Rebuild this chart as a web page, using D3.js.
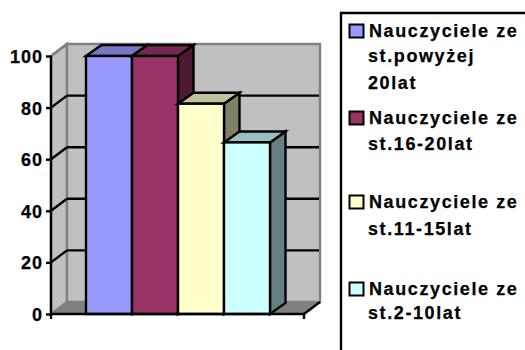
<!DOCTYPE html>
<html>
<head>
<meta charset="utf-8">
<script src="https://cdnjs.cloudflare.com/ajax/libs/d3/7.8.5/d3.min.js"></script>
<style>
  html, body { margin: 0; padding: 0; background: #fff; overflow: hidden; }
  svg { display: block; }
  text { font-family: "Liberation Sans", Arial, sans-serif; font-weight: bold; fill: #000; stroke: #000; stroke-width: 0.25px; }
</style>
</head>
<body>
<div id="root"></div>
<script>
const categories = ["st.powyżej 20lat", "st.16-20lat", "st.11-15lat", "st.2-10lat"];
const values = [100, 100, 81.5, 66.5];
const colors = ["#9999ff", "#993366", "#ffffcc", "#ccffff"];
const topColors = ["#7777c4", "#772850", "#c0c099", "#99c0c0"];
const sideColors = ["#4d4d80", "#4d1a33", "#808066", "#668080"];
const yTicks = [0, 20, 40, 60, 80, 100];
const legendLines = [
  ["Nauczyciele ze", "st.powyżej", "20lat"],
  ["Nauczyciele ze", "st.16-20lat"],
  ["Nauczyciele ze", "st.11-15lat"],
  ["Nauczyciele ze", "st.2-10lat"]
];
const legendBaselines = [[37, 62, 89], [124, 150], [208, 235], [295, 319]];

var w = 525;
var h = 350;
var svg = d3.select("#root").append("svg").attr("width", w).attr("height", h);

var y = d3.scaleLinear().domain([0, 100]).range([314, 56]);
var x = d3.scaleBand().domain(categories).range([86, 270]);

// depth of the walls and of the bars
var wallX = 16, wallY = 12;
var barX = 15.5, barY = 11;
var left = 51, right = 304;
var lw = 2.4;

function poly(points, fill, stroke, sw) {
  return svg.append("polygon")
    .attr("points", points.map(p => p.join(",")).join(" "))
    .attr("fill", fill)
    .attr("stroke", stroke || "none")
    .attr("stroke-width", sw || 0);
}

function line(x1, y1, x2, y2, color, sw) {
  return svg.append("line")
    .attr("x1", x1).attr("y1", y1).attr("x2", x2).attr("y2", y2)
    .attr("stroke", color).attr("stroke-width", sw);
}

// walls and floor
poly([[left, y(0)], [left + wallX, y(0) - wallY], [left + wallX, y(100) - wallY], [left, y(100)]], "#c0c0c0", "#808080", lw);
poly([[left + wallX, y(0) - wallY], [right + wallX, y(0) - wallY], [right + wallX, y(100) - wallY], [left + wallX, y(100) - wallY]], "#c0c0c0", "#808080", lw);
poly([[left, y(0)], [left + wallX, y(0) - wallY], [right + wallX, y(0) - wallY], [right, y(0)]], "#808080", "#808080", 1);

// gridlines
yTicks.filter(d => d > 0 && d < 100).forEach(function(d) {
  line(left, y(d), left + wallX, y(d) - wallY, "#000", lw);
  line(left + wallX, y(d) - wallY, right + wallX - 1, y(d) - wallY, "#000", lw);
});
line(left, y(100), left + wallX, y(100) - wallY, "#808080", lw);

// bars
categories.forEach(function(c, i) {
  var x0 = x(c), x1 = x0 + x.bandwidth();
  var y1 = y(values[i]), y0 = y(0);
  poly([[x1, y0], [x1 + barX, y0 - barY], [x1 + barX, y1 - barY], [x1, y1]], sideColors[i], "#000", lw);
  poly([[x0, y1], [x0 + barX, y1 - barY], [x1 + barX, y1 - barY], [x1, y1]], topColors[i], "#000", lw);
  svg.append("rect")
    .attr("x", x0).attr("y", y1)
    .attr("width", x1 - x0).attr("height", y0 - y1)
    .attr("fill", colors[i]).attr("stroke", "#000").attr("stroke-width", lw);
});

// axes
var yAxis = d3.axisLeft(y).tickValues(yTicks).tickSize(5).tickPadding(3);
var gy = svg.append("g").attr("transform", "translate(" + left + ",0)").call(yAxis);
gy.selectAll("line").attr("stroke", "#000").attr("stroke-width", lw);
gy.select(".domain").attr("stroke", "#000").attr("stroke-width", lw).attr("d", "M0," + y(100) + "V" + (y(0) + 5));
gy.selectAll("text").style("font-size", "18px").style("letter-spacing", "1px").attr("dy", "0.36em");

line(left, y(0), right, y(0), "#000", lw);
line(right, y(0), right, y(0) + 5, "#000", lw);
line(right, y(0), right + wallX, y(0) - wallY, "#000", lw);

// legend
svg.append("path").attr("d", "M525,13H341V350").attr("fill", "none").attr("stroke", "#000").attr("stroke-width", lw);
legendLines.forEach(function(lines, i) {
  var base = legendBaselines[i];
  svg.append("rect")
    .attr("x", 349.5).attr("y", base[0] - 12.5)
    .attr("width", 14).attr("height", 13)
    .attr("fill", colors[i]).attr("stroke", "#000").attr("stroke-width", 2);
  lines.forEach(function(t, j) {
    svg.append("text")
      .attr("x", j === 0 ? 369 : 368).attr("y", base[j])
      .style("font-size", "18px")
      .style("letter-spacing", "1.6px")
      .text(t);
  });
});
</script>
</body>
</html>
